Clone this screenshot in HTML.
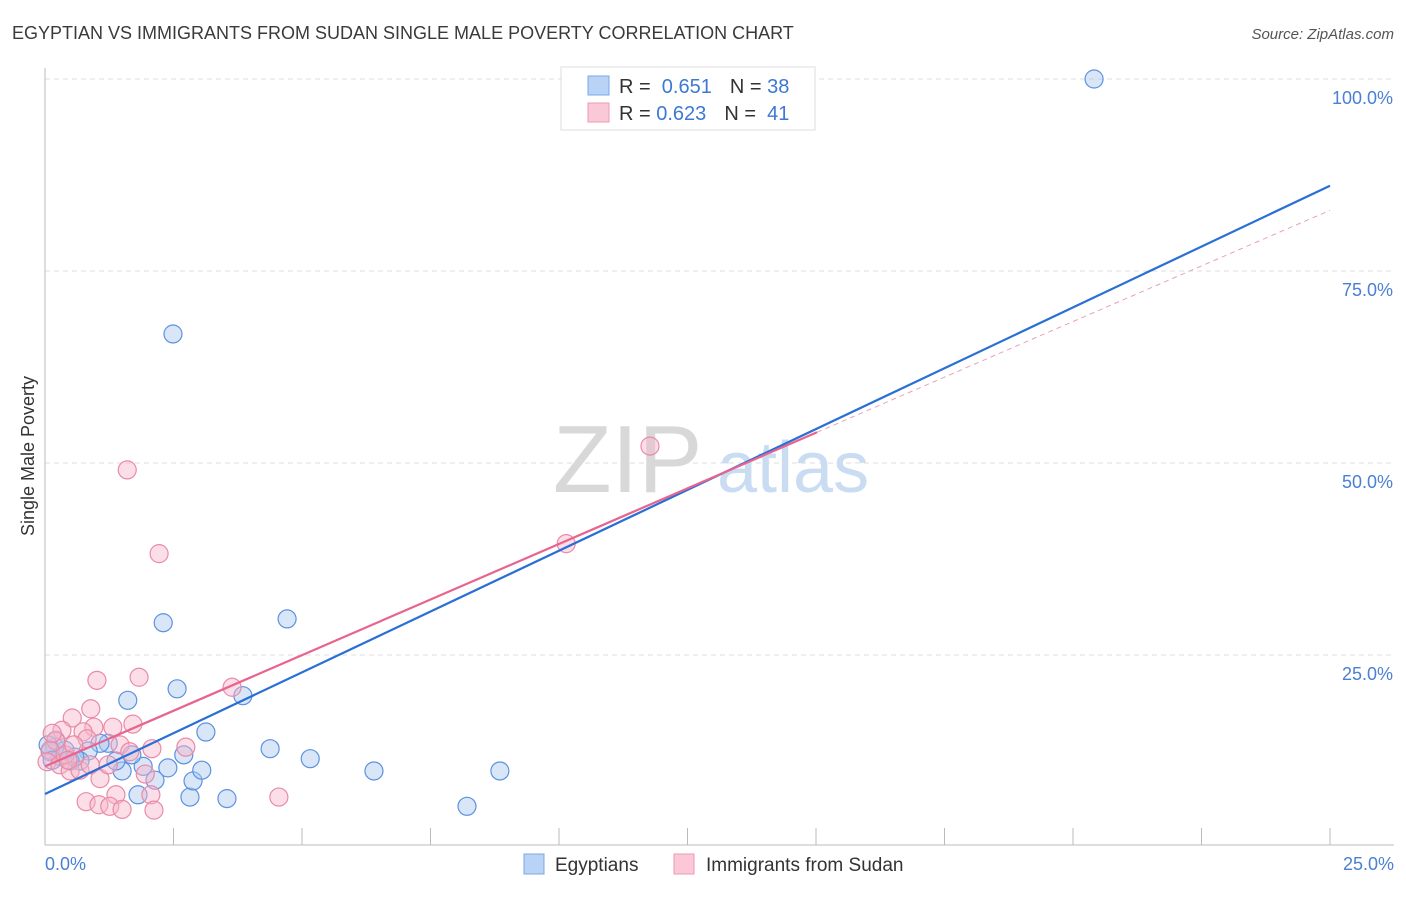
<!DOCTYPE html>
<html><head><meta charset="utf-8"><style>
body{margin:0;background:#fff;font-family:"Liberation Sans",sans-serif}
svg text{font-family:"Liberation Sans",sans-serif}
</style></head><body>
<svg id="chart" width="1406" height="892" viewBox="0 0 1406 892">
<text x="12" y="39" font-size="18" fill="#3a3a3a">EGYPTIAN VS IMMIGRANTS FROM SUDAN SINGLE MALE POVERTY CORRELATION CHART</text>
<text x="1394" y="39" font-size="15" fill="#555" font-style="italic" text-anchor="end">Source: ZipAtlas.com</text>
<g id="grid"></g>
<g>
<text x="553" y="492" font-size="96" font-family="Liberation Serif" fill="#d8d8d8">ZIP</text>
<text x="717" y="492" font-size="72" fill="#c9dcf2">atlas</text>
</g>
<line x1="45" y1="68" x2="45" y2="845" stroke="#bbb"/>
<line x1="45" y1="845" x2="1394" y2="845" stroke="#bbb"/>
<g id="ticks"></g>
<g id="ylabels"></g>
<text x="45" y="870" font-size="18" fill="#4a7fd4">0.0%</text>
<text x="1394" y="870" font-size="18" fill="#4a7fd4" text-anchor="end">25.0%</text>
<text x="34" y="456" font-size="18" fill="#333" text-anchor="middle" transform="rotate(-90 34 456)">Single Male Poverty</text>
<g id="pts"></g>
<g id="trends"></g>
<g>
<rect x="561" y="67" width="254" height="63" fill="#fff" stroke="#ddd"/>
<rect x="588" y="76" width="21" height="19" fill="#b8d3f5" stroke="#7aa8e8"/>
<rect x="588" y="103" width="21" height="19" fill="#fac8d6" stroke="#ee9ab2"/>
<text x="619" y="93" font-size="20" fill="#333">R = <tspan fill="#3d78d4">&#160;0.651</tspan><tspan dx="18">N = </tspan><tspan fill="#3d78d4">38</tspan></text>
<text x="619" y="120" font-size="20" fill="#333">R = <tspan fill="#3d78d4">0.623</tspan><tspan dx="18">N = </tspan><tspan fill="#3d78d4">&#160;41</tspan></text>
</g>
<g>
<rect x="524" y="854" width="20" height="20" fill="#b8d3f5" stroke="#7aa8e8"/>
<text x="555" y="871" font-size="19" fill="#333">Egyptians</text>
<rect x="674" y="854" width="20" height="20" fill="#fac8d6" stroke="#ee9ab2"/>
<text x="706" y="871" font-size="19" fill="#333">Immigrants from Sudan</text>
</g>
</svg>
<script>
const blueX=[20.41,2.49,2.30,4.71,2.57,3.85,1.61,3.13,4.38,5.16,6.40,8.85,8.21,3.54,2.82,1.81,2.88,2.14,2.39,1.91,1.50,1.38,3.05,2.70,1.69,1.23,1.07,0.84,0.68,0.49,0.29,0.19,0.10,0.39,0.58,0.21,0.06,0.14];
const blueY=[100,66.8,29.2,29.7,20.6,19.7,19.1,14.97,12.8,11.5,9.9,9.9,5.3,6.3,6.5,6.8,8.6,8.7,10.3,10.5,9.9,11.2,10.0,12.0,12.0,13.5,13.5,12.5,11.2,11.2,11.8,13.0,12.4,12.6,11.7,13.9,13.3,11.3];
const pinkX=[11.77,1.60,2.22,10.14,1.83,1.01,3.64,0.89,0.53,1.71,1.32,0.95,0.74,0.33,2.74,2.08,1.46,0.82,0.21,0.10,0.04,0.29,0.49,0.68,0.88,1.07,1.95,2.06,1.38,0.80,1.05,1.26,1.50,2.12,4.55,0.14,0.39,1.23,1.65,0.56,0.45];
const pinkY=[52.2,49.1,38.2,39.5,22.1,21.7,20.8,18.0,16.8,16.0,15.6,15.6,15.0,15.2,13.0,12.8,13.3,14.1,13.8,12.6,11.1,10.7,9.9,10.0,10.7,8.9,9.5,6.8,6.8,5.9,5.5,5.3,4.9,4.8,6.5,14.8,12.0,10.7,12.4,13.3,11.3];
const yTicks=[25,50,75,100];
const yTickLabels=["25.0%","50.0%","75.0%","100.0%"];
const xTicks=[2.5,5,7.5,10,12.5,15,17.5,20,22.5,25];
const blueTrend=[6.9,86.1];
const pinkTrend=[10.5,82.9];
const pinkSolidEnd=15.02;
const NS='http://www.w3.org/2000/svg';
const sx=v=>45+v*51.4, sy=v=>847-v*7.68;
function mk(tag,attrs,parent){const e=document.createElementNS(NS,tag);for(const k in attrs)e.setAttribute(k,attrs[k]);document.getElementById(parent).appendChild(e);return e;}
yTicks.forEach((t,i)=>{
 const g=mk('line',{x1:45,x2:1394,y1:sy(t),y2:sy(t),stroke:'#ddd','stroke-dasharray':'5,4'},'grid');
 
 
 const l=mk('text',{x:1393,y:sy(t)+25,'font-size':18,fill:'#4a7fd4','text-anchor':'end'},'ylabels');
 l.textContent=yTickLabels[i];
 
 
});
xTicks.forEach(t=>{
 const l=mk('line',{x1:sx(t),x2:sx(t),y1:828,y2:845,stroke:'#bbb'},'ticks');
 
 
});
function pts(X,Y,fill,stroke,name){X.forEach((x,i)=>{
 const c=mk('circle',{cx:sx(x),cy:sy(Y[i]),r:9,fill:fill,'fill-opacity':0.45,stroke:stroke,'stroke-width':1.2},'pts');
 
 
});}
pts(blueX,blueY,'#a9c8f0','#5b92e0','egyptian-point');
pts(pinkX,pinkY,'#f7b6c9','#ea8aa6','sudan-point');
const pslope=(pinkTrend[1]-pinkTrend[0])/25;
const pd=mk('line',{x1:sx(pinkSolidEnd),y1:sy(pinkTrend[0]+pslope*pinkSolidEnd),x2:sx(25),y2:sy(pinkTrend[1]),stroke:'#eaa0b6','stroke-width':1,'stroke-dasharray':'5,4'},'trends');


const bl=mk('line',{x1:sx(0),y1:sy(blueTrend[0]),x2:sx(25),y2:sy(blueTrend[1]),stroke:'#2a6fd6','stroke-width':2.2},'trends');


const pl=mk('line',{x1:sx(0),y1:sy(pinkTrend[0]),x2:sx(pinkSolidEnd),y2:sy(pinkTrend[0]+pslope*pinkSolidEnd),stroke:'#e8648e','stroke-width':2.2},'trends');


</script>
</body></html>
